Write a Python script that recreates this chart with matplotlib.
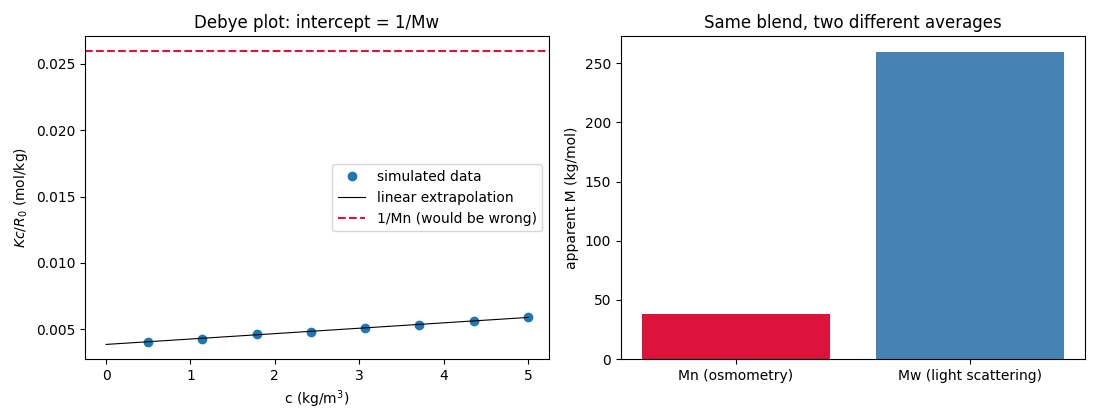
import numpy as np
import matplotlib
matplotlib.use("Agg")
import matplotlib.pyplot as plt

# simulated Debye data
conc = [0.5, 1.14, 1.79, 2.43, 3.07, 3.71, 4.36, 5.0]
kc_r = [0.00407, 0.00430, 0.00462, 0.00483, 0.00513, 0.00535, 0.00560, 0.00592]

# averages of the blend (kg/mol)
labels = ["Mn (osmometry)", "Mw (light scattering)"]
masses = [38.5, 260.0]
bar_colors = ["crimson", "steelblue"]

fig, (ax1, ax2) = plt.subplots(1, 2, figsize=(11, 4.2), dpi=100)

ax1.plot(conc, kc_r, "o", label="simulated data")
slope, icpt = np.polyfit(conc, kc_r, 1)
cc = np.linspace(0, 5, 50)
ax1.plot(cc, icpt + slope * cc, "k-", lw=0.8, label="linear extrapolation")
ax1.axhline(1 / masses[0], color="crimson", ls="--", label="1/Mn (would be wrong)")
ax1.set_xlabel("c (kg/m$^3$)")
ax1.set_ylabel("$Kc/R_0$ (mol/kg)")
ax1.set_title("Debye plot: intercept = 1/Mw")
ax1.legend(loc="center right")

ax2.bar(labels, masses, color=bar_colors)
ax2.set_ylabel("apparent M (kg/mol)")
ax2.set_title("Same blend, two different averages")

# placement
fig.subplots_adjust(left=0.0773, right=0.9864, bottom=0.145, top=0.914, wspace=0.155)
plt.savefig("out.png")
